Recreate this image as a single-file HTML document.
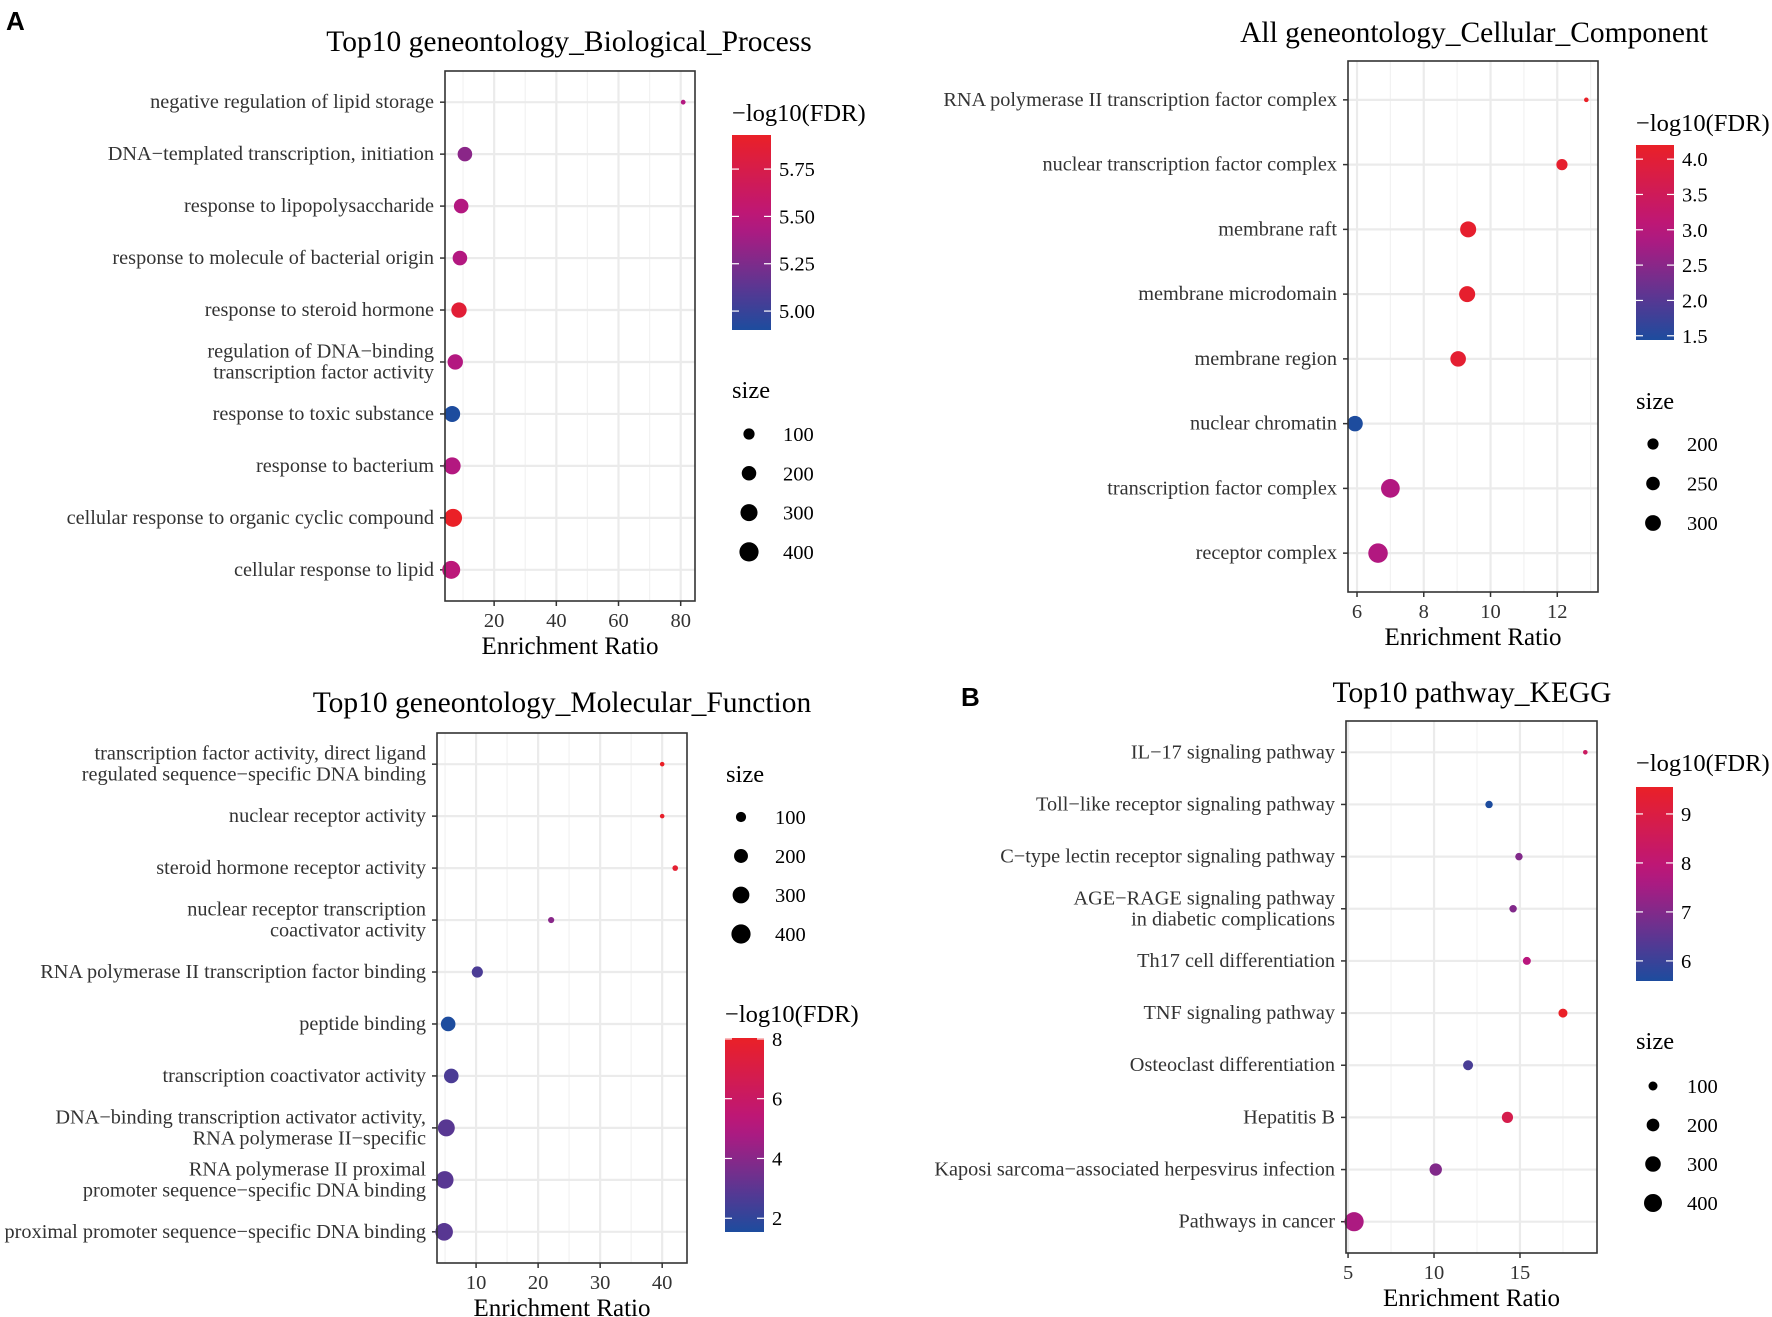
<!DOCTYPE html>
<html><head><meta charset="utf-8">
<style>
html,body{margin:0;padding:0;background:#fff;}
svg{display:block;font-family:"Liberation Serif","Times New Roman",serif;}
</style></head>
<body>
<svg id="fig" width="1772" height="1317" viewBox="0 0 1772 1317" xmlns="http://www.w3.org/2000/svg">
<text x="6" y="30" font-family="Liberation Sans, sans-serif" font-weight="bold" font-size="26">A</text>
<text x="961" y="706" font-family="Liberation Sans, sans-serif" font-weight="bold" font-size="26">B</text>
</svg>
<script>
// ---- Biological Process data ----
const bpTerms = ["negative regulation of lipid storage","DNA\u2212templated transcription, initiation","response to lipopolysaccharide","response to molecule of bacterial origin","response to steroid hormone","regulation of DNA\u2212binding|transcription factor activity","response to toxic substance","response to bacterium","cellular response to organic cyclic compound","cellular response to lipid"];
const bpRatio = [80.8,10.6,9.4,9.0,8.7,7.5,6.5,6.5,6.8,6.2];
const bpFdr = [5.45,5.3,5.45,5.45,5.85,5.45,4.90,5.45,5.93,5.5];
const bpSize = [4,203,203,203,232,232,256,298,342,342];
const bpXTicks = [20,40,60,80];
const bpFdrTicks = [5.00,5.25,5.50,5.75];
const bpSizeTicks = [100,200,300,400];
// ---- Cellular Component data ----
const ccTerms = ["RNA polymerase II transcription factor complex","nuclear transcription factor complex","membrane raft","membrane microdomain","membrane region","nuclear chromatin","transcription factor complex","receptor complex"];
const ccRatio = [12.87,12.14,9.33,9.3,9.03,5.94,7.0,6.63];
const ccFdr = [4.2,4.1,4.1,4.1,4.05,1.44,2.9,2.9];
const ccSize = [92,200,307,307,295,295,375,396];
const ccXTicks = [6,8,10,12];
const ccFdrTicks = [1.5,2.0,2.5,3.0,3.5,4.0];
const ccSizeTicks = [200,250,300];
// ---- Molecular Function data ----
const mfTerms = ["transcription factor activity, direct ligand|regulated sequence\u2212specific DNA binding","nuclear receptor activity","steroid hormone receptor activity","nuclear receptor transcription|coactivator activity","RNA polymerase II transcription factor binding","peptide binding","transcription coactivator activity","DNA\u2212binding transcription activator activity,|RNA polymerase II\u2212specific","RNA polymerase II proximal|promoter sequence\u2212specific DNA binding","proximal promoter sequence\u2212specific DNA binding"];
const mfRatio = [40,40,42.1,22.1,10.2,5.5,6.0,5.2,4.95,4.85];
const mfFdr = [8.03,7.9,7.7,4.0,2.6,1.54,2.6,2.9,2.9,2.9];
const mfSize = [14,14,24,31,123,222,222,308,332,332];
const mfXTicks = [10,20,30,40];
const mfFdrTicks = [2,4,6,8];
const mfSizeTicks = [100,200,300,400];
// ---- KEGG data ----
const kgTerms = ["IL\u221217 signaling pathway","Toll\u2212like receptor signaling pathway","C\u2212type lectin receptor signaling pathway","AGE\u2212RAGE signaling pathway|in diabetic complications","Th17 cell differentiation","TNF signaling pathway","Osteoclast differentiation","Hepatitis B","Kaposi sarcoma\u2212associated herpesvirus infection","Pathways in cancer"];
const kgRatio = [18.8,13.2,14.94,14.6,15.4,17.5,11.98,14.27,10.1,5.35];
const kgFdr = [8.4,5.59,7.0,7.0,7.8,9.55,6.2,8.8,7.0,7.6];
const kgSize = [26,68,68,68,79,100,123,155,190,455];
const kgXTicks = [5,10,15];
const kgFdrTicks = [6,7,8,9];
const kgSizeTicks = [100,200,300,400];

const NS = "http://www.w3.org/2000/svg";
const svg = document.getElementById("fig");
function el(tag, attrs, parent, txt){
  const e = document.createElementNS(NS, tag);
  for (const k in attrs) e.setAttribute(k, attrs[k]);
  if (txt !== undefined) e.textContent = txt;
  (parent||svg).appendChild(e);
  return e;
}
function lerp(a,b,t){return a+(b-a)*t;}
function hex(c){return [parseInt(c.slice(1,3),16),parseInt(c.slice(3,5),16),parseInt(c.slice(5,7),16)];}
const stops=[[0,hex("#1D4C9E")],[0.55,hex("#B8167F")],[1,hex("#EA2027")]];
function colorAt(t){
  t=Math.max(0,Math.min(1,t));
  for(let i=0;i<stops.length-1;i++){
    const [t0,c0]=stops[i],[t1,c1]=stops[i+1];
    if(t<=t1){const u=(t-t0)/(t1-t0);return "rgb("+c0.map((v,j)=>Math.round(lerp(v,c1[j],u))).join(",")+")";}
  }
}
let gid=0;
function panel(cfg){
  const g = el("g",{});
  
  
  const {L,R,T,B} = cfg.box;
  const xmin=cfg.xdom[0], xmax=cfg.xdom[1];
  const xs = v => L + (v-xmin)/(xmax-xmin)*(R-L);
  const n = cfg.terms.length;
  const step = (B-T)/(n-1+1.2);
  const ys = i => T + step*(0.6+i);
  const fmin=Math.min(...cfg.fdr), fmax=Math.max(...cfg.fdr);
  const cs = v => colorAt((v-fmin)/(fmax-fmin));
  const rs = s => cfg.r0 + cfg.r1*Math.sqrt(Math.max(0,s));
  const tt = el("text",{x:cfg.titleX,y:cfg.titleY,"font-size":29.5,"text-anchor":"middle",fill:"#000"},g,cfg.title);
  
  
  el("rect",{x:L,y:T,width:R-L,height:B-T,fill:"#fff"},g);
  const tk=cfg.xticks, d=tk[1]-tk[0];
  for(let v=tk[0]-d/2; v<=xmax; v+=d){ if(v>xmin) el("line",{x1:xs(v),x2:xs(v),y1:T,y2:B,stroke:"#F2F2F2","stroke-width":1.2},g); }
  tk.forEach(v=>{
    const gl=el("line",{x1:xs(v),x2:xs(v),y1:T,y2:B,stroke:"#EBEBEB","stroke-width":2.2},g);
    
    
  });
  cfg.terms.forEach((t,i)=>{ el("line",{x1:L,x2:R,y1:ys(i),y2:ys(i),stroke:"#EBEBEB","stroke-width":2.2},g); });
  tk.forEach(v=>{
    el("line",{x1:xs(v),x2:xs(v),y1:B,y2:B+5,stroke:"#333","stroke-width":1.5},g);
    const lab=el("text",{x:xs(v),y:B+26,"font-size":20.5,"text-anchor":"middle",fill:"#333"},g,String(v));
    
    
  });
  const xt=el("text",{x:(L+R)/2,y:B+53,"font-size":25,"text-anchor":"middle",fill:"#000"},g,"Enrichment Ratio");
  
  
  cfg.terms.forEach((t,i)=>{
    const y=ys(i);
    el("line",{x1:L-5,x2:L,y1:y,y2:y,stroke:"#333","stroke-width":1.5},g);
    const lines=t.split("|");
    const lh=21;
    lines.forEach((ln,j)=>{
      const ty = y + 6 + (j-(lines.length-1)/2)*lh;
      const lab=el("text",{x:L-11,y:ty,"font-size":20.3,"text-anchor":"end",fill:"#333"},g,ln);
      
      
    });
  });
  cfg.terms.forEach((t,i)=>{
    const c=el("circle",{cx:xs(cfg.ratio[i]),cy:ys(i),r:rs(cfg.size[i]),fill:cs(cfg.fdr[i])},g);
    
    
  });
  el("rect",{x:L,y:T,width:R-L,height:B-T,fill:"none",stroke:"#333","stroke-width":1.6},g);
  const cl=cfg.cleg;
  const ct=el("text",{x:cl.x,y:cl.titleY,"font-size":24.5,fill:"#000"},g,"\u2212log10(FDR)");
  
  
  const id="grad"+(gid++);
  const defs=el("defs",{},g);
  const lg=el("linearGradient",{id:id,x1:0,y1:1,x2:0,y2:0},defs);
  for(let k=0;k<=10;k++) el("stop",{offset:k/10,"stop-color":colorAt(k/10)},lg);
  const bar=el("rect",{x:cl.x,y:cl.top,width:cl.w,height:cl.bot-cl.top,fill:"url(#"+id+")"},g);
  
  
  const cy = v => cl.bot - (v-fmin)/(fmax-fmin)*(cl.bot-cl.top);
  cfg.fdrTicks.forEach(v=>{
    const y=cy(v);
    el("line",{x1:cl.x,x2:cl.x+7,y1:y,y2:y,stroke:"#fff","stroke-width":1.2},g);
    el("line",{x1:cl.x+cl.w-7,x2:cl.x+cl.w,y1:y,y2:y,stroke:"#fff","stroke-width":1.2},g);
    const lab=el("text",{x:cl.x+cl.w+8,y:y+7,"font-size":20.5,fill:"#000"},g,cfg.fdrFmt(v));
    
    
  });
  const sl=cfg.sleg;
  const st=el("text",{x:sl.x,y:sl.titleY,"font-size":24.5,fill:"#000"},g,"size");
  
  
  cfg.sizeTicks.forEach((v,k)=>{
    const y=sl.y0+k*sl.dy;
    const c=el("circle",{cx:sl.dotX,cy:y,r:rs(v),fill:"#000"},g);
    
    
    el("text",{x:sl.dotX+34,y:y+7,"font-size":20.5,fill:"#000"},g,String(v));
  });
}
panel({name:"biological-process-chart",title:"Top10 geneontology_Biological_Process",titleX:569,titleY:51,
  terms:bpTerms,ratio:bpRatio,fdr:bpFdr,size:bpSize,xticks:bpXTicks,fdrTicks:bpFdrTicks,sizeTicks:bpSizeTicks,
  box:{L:445,R:695,T:71,B:601},xdom:[4.2,84.6],r0:1.6,r1:0.4,fdrFmt:v=>v.toFixed(2),
  cleg:{x:732,w:39,top:135,bot:330,titleY:121},sleg:{x:732,titleY:398,dotX:749,y0:434,dy:39.3}});
panel({name:"cellular-component-chart",title:"All geneontology_Cellular_Component",titleX:1474,titleY:42,
  terms:ccTerms,ratio:ccRatio,fdr:ccFdr,size:ccSize,xticks:ccXTicks,fdrTicks:ccFdrTicks,sizeTicks:ccSizeTicks,
  box:{L:1348,R:1598,T:61,B:592},xdom:[5.73,13.22],r0:-4.63,r1:0.723,fdrFmt:v=>v.toFixed(1),
  cleg:{x:1636,w:38,top:145,bot:340,titleY:131},sleg:{x:1636,titleY:409,dotX:1653,y0:444,dy:39.5}});
panel({name:"molecular-function-chart",title:"Top10 geneontology_Molecular_Function",titleX:562,titleY:712,
  terms:mfTerms,ratio:mfRatio,fdr:mfFdr,size:mfSize,xticks:mfXTicks,fdrTicks:mfFdrTicks,sizeTicks:mfSizeTicks,
  box:{L:437,R:687,T:733,B:1263},xdom:[3.7,44.0],r0:0.6,r1:0.45,fdrFmt:v=>String(v),
  cleg:{x:725,w:39,top:1038,bot:1232,titleY:1022},sleg:{x:726,titleY:782,dotX:741,y0:817,dy:39}});
panel({name:"kegg-pathway-chart",title:"Top10 pathway_KEGG",titleX:1472,titleY:702,
  terms:kgTerms,ratio:kgRatio,fdr:kgFdr,size:kgSize,xticks:kgXTicks,fdrTicks:kgFdrTicks,sizeTicks:kgSizeTicks,
  box:{L:1346,R:1597,T:721,B:1253},xdom:[4.88,19.48],r0:0,r1:0.45,fdrFmt:v=>String(v),
  cleg:{x:1636,w:37,top:787,bot:981,titleY:771},sleg:{x:1636,titleY:1049,dotX:1653,y0:1086,dy:39}});
</script>
</body></html>
